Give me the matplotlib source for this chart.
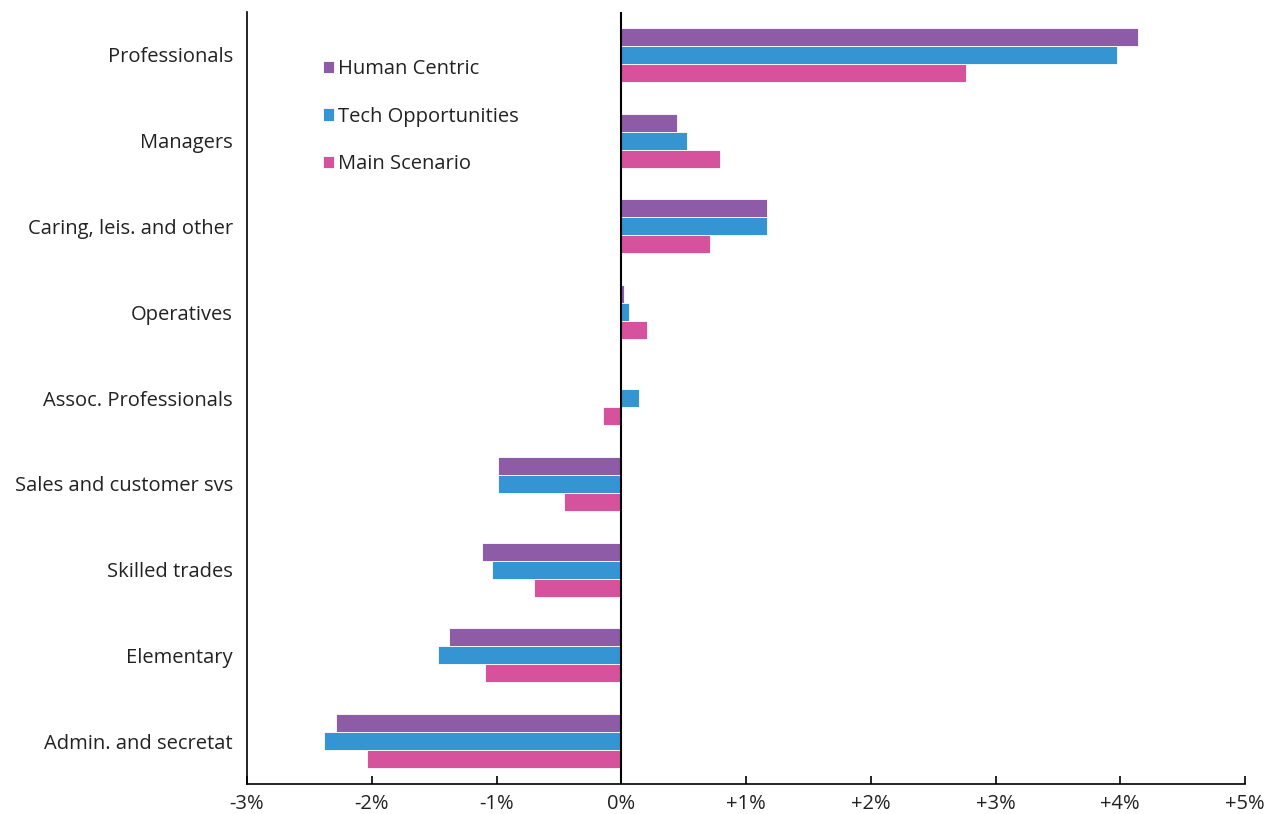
import matplotlib
matplotlib.use("Agg")
import matplotlib.pyplot as plt
import numpy as np

categories = ["Professionals", "Managers", "Caring, leis. and other", "Operatives",
              "Assoc. Professionals", "Sales and customer svs", "Skilled trades",
              "Elementary", "Admin. and secretat"]
human_centric = [4.14, 0.45, 1.17, 0.025, -0.01, -0.99, -1.12, -1.38, -2.29]
tech_opportunities = [3.97, 0.53, 1.17, 0.06, 0.14, -0.99, -1.04, -1.47, -2.38]
main_scenario = [2.76, 0.79, 0.71, 0.21, -0.15, -0.46, -0.70, -1.09, -2.04]
series_names = ["Human Centric", "Tech Opportunities", "Main Scenario"]
colors = ["#8E5BA6", "#3594D2", "#D6529D"]
xticks = [-3, -2, -1, 0, 1, 2, 3, 4, 5]
xtick_labels = ["-3%", "-2%", "-1%", "0%", "+1%", "+2%", "+3%", "+4%", "+5%"]

plt.rcParams['font.family'] = ['Open Sans', 'DejaVu Sans']

fig = plt.figure(figsize=(12.67, 8.14), dpi=100)
ax = fig.add_axes([247/1267, 1 - 784/814, (1245 - 247)/1267, (784 - 12)/814])

n = len(categories)
ypos = np.arange(n)[::-1]
h = 0.21
for i, (vals, name, c) in enumerate(zip([human_centric, tech_opportunities, main_scenario], series_names, colors)):
    ax.barh(ypos + (1 - i) * h, vals, height=h, color=c, edgecolor="white", linewidth=0.6, label=name)

ax.axvline(0, color="black", linewidth=1.5, zorder=3)
ax.set_xlim(-3, 5)
ax.set_ylim(-0.5, n - 0.5)
ax.set_yticks(ypos)
ax.set_yticklabels(categories, fontsize=14.5, color="#222222")
ax.tick_params(axis="y", length=0, pad=10)
ax.set_xticks(xticks)
ax.set_xticklabels(xtick_labels, fontsize=14.5, color="#222222")
ax.tick_params(axis="x", direction="in", length=6, width=1.2, pad=7)
for s in ["top", "right"]:
    ax.spines[s].set_visible(False)
ax.spines["left"].set_linewidth(1.2)
ax.spines["bottom"].set_linewidth(1.2)

leg = ax.legend(loc="upper left", bbox_to_anchor=(0.058, 0.962), frameon=False, fontsize=14.5,
                handlelength=0.55, handleheight=0.55, handletextpad=0.2, labelspacing=1.35)
for t in leg.get_texts():
    t.set_color("#222222")

fig.savefig("out.png", dpi=100)
